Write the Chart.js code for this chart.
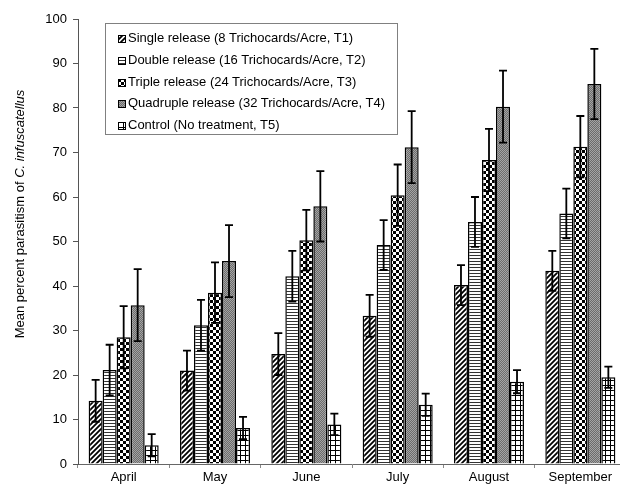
<!DOCTYPE html>
<html>
<head>
<meta charset="utf-8">
<script src="https://cdn.jsdelivr.net/npm/chart.js@4/dist/chart.umd.min.js"></script>
<style>
  html, body { margin: 0; padding: 0; background: #fff; overflow: hidden; }
  #wrap { position: relative; width: 620px; height: 490px; overflow: hidden; }
  #legend {
    position: absolute; left: 105px; top: 23px; width: 291px; height: 110px;
    border: 1px solid #808080; background: #fff;
    font-family: "Liberation Sans", Arial, sans-serif; font-size: 13px; color: #000;
  }
  .item { position: absolute; left: 12px; height: 15px; line-height: 15px; white-space: nowrap; }
  .item canvas { display: inline-block; vertical-align: -1px; margin-right: 2px; }
</style>
</head>
<body>
<div id="wrap">
  <canvas id="barChart" width="627" height="490"></canvas>
  <div id="legend"></div>
</div>
<script>
const months = ['April', 'May', 'June', 'July', 'August', 'September'];
const seriesNames = [
  'Single release (8 Trichocards/Acre, T1)',
  'Double release (16 Trichocards/Acre, T2)',
  'Triple release (24 Trichocards/Acre, T3)',
  'Quadruple release (32 Trichocards/Acre, T4)',
  'Control (No treatment, T5)'
];
const single = [14.2, 21.0, 24.7, 33.3, 40.2, 43.4];
const double = [21.1, 31.2, 42.2, 49.2, 54.4, 56.3];
const triple = [28.5, 38.5, 50.3, 60.4, 68.3, 71.3];
const quadruple = [35.7, 45.6, 57.9, 71.2, 80.3, 85.4];
const control = [4.2, 8.1, 8.9, 13.3, 18.5, 19.5];

const singleErr = [4.7, 4.5, 4.7, 4.7, 4.5, 4.5];
const doubleErr = [5.7, 5.7, 5.7, 5.6, 5.6, 5.6];
const tripleErr = [7.0, 6.8, 6.8, 6.9, 7.0, 6.9];
const quadrupleErr = [8.1, 8.1, 7.9, 8.1, 8.1, 7.9];
const controlErr = [2.5, 2.5, 2.4, 2.5, 2.6, 2.4];

const yTicks = [0, 10, 20, 30, 40, 50, 60, 70, 80, 90, 100];

// --- fill patterns ---
function makeTile(w, h, draw) {
  const c = document.createElement('canvas');
  c.width = w; c.height = h;
  const g = c.getContext('2d');
  g.fillStyle = '#fff';
  g.fillRect(0, 0, w, h);
  draw(g, w, h);
  return c;
}
const tiles = [
  makeTile(5, 5, function(g, w, h) {          // diagonal
    g.strokeStyle = '#000'; g.lineWidth = 1.8;
    g.beginPath();
    g.moveTo(-1, h + 1); g.lineTo(w + 1, -1);
    g.moveTo(-2, 2); g.lineTo(2, -2);
    g.moveTo(w - 2, h + 2); g.lineTo(w + 2, h - 2);
    g.stroke();
  }),
  makeTile(4, 3, function(g, w) {             // horizontal
    g.fillStyle = '#333'; g.fillRect(0, 0, w, 1);
  }),
  makeTile(6, 6, function(g) {                // checkerboard
    g.fillStyle = '#000'; g.fillRect(0, 0, 3, 3); g.fillRect(3, 3, 3, 3);
  }),
  makeTile(2, 2, function(g) {                // dark stipple
    g.fillStyle = '#6c6c6c'; g.fillRect(0, 0, 2, 2);
    g.fillStyle = '#a4a4a4'; g.fillRect(0, 0, 1, 1); g.fillRect(1, 1, 1, 1);
  }),
  makeTile(5, 5, function(g) {                // grid
    g.fillStyle = '#000'; g.fillRect(0, 0, 5, 1); g.fillRect(0, 0, 1, 5);
  })
];
const ctx = document.getElementById('barChart').getContext('2d');
const patterns = tiles.map(t => ctx.createPattern(t, 'repeat'));

const seriesData = [single, double, triple, quadruple, control];
const seriesErr = [singleErr, doubleErr, tripleErr, quadrupleErr, controlErr];

// error bars drawn through the y scale
const errorBars = {
  id: 'errorBars',
  afterDatasetsDraw(chart) {
    const c = chart.ctx;
    const y = chart.scales.y;
    c.save();
    c.strokeStyle = '#000';
    c.lineWidth = 1.8;
    chart.data.datasets.forEach((ds, i) => {
      const meta = chart.getDatasetMeta(i);
      meta.data.forEach((bar, j) => {
        const v = ds.data[j], e = ds.errors[j];
        const top = y.getPixelForValue(v + e), bot = y.getPixelForValue(v - e);
        c.beginPath();
        c.moveTo(bar.x, top); c.lineTo(bar.x, bot);
        c.moveTo(bar.x - 4, top); c.lineTo(bar.x + 4, top);
        c.moveTo(bar.x - 4, bot); c.lineTo(bar.x + 4, bot);
        c.stroke();
      });
    });
    c.restore();
  }
};

// y title with italic species name
const yTitle = {
  id: 'yTitle',
  afterDraw(chart) {
    const c = chart.ctx;
    const a = 'Mean percent parasitism of ', b = 'C. infuscatellus';
    c.save();
    c.fillStyle = '#000';
    c.font = '13px "Liberation Sans", Arial, sans-serif';
    const wa = c.measureText(a).width;
    c.font = 'italic 13px "Liberation Sans", Arial, sans-serif';
    const wb = c.measureText(b).width;
    c.translate(24, 214);
    c.rotate(-Math.PI / 2);
    c.textBaseline = 'alphabetic';
    c.textAlign = 'left';
    const x0 = -(wa + wb) / 2;
    c.font = '13px "Liberation Sans", Arial, sans-serif';
    c.fillText(a, x0, 0);
    c.font = 'italic 13px "Liberation Sans", Arial, sans-serif';
    c.fillText(b, x0 + wa, 0);
    c.restore();
  }
};

const font = { family: '"Liberation Sans", Arial, sans-serif', size: 13 };

new Chart(ctx, {
  type: 'bar',
  data: {
    labels: months,
    datasets: seriesNames.map((name, i) => ({
      label: name,
      data: seriesData[i],
      errors: seriesErr[i],
      backgroundColor: patterns[i],
      borderColor: '#000',
      borderWidth: 1.5
    }))
  },
  options: {
    responsive: false,
    animation: false,
    layout: { padding: { top: 19, right: 1, left: 0, bottom: 0 } },
    datasets: { bar: { categoryPercentage: 0.767, barPercentage: 1 } },
    plugins: { legend: { display: false }, tooltip: { enabled: false } },
    scales: {
      x: {
        afterFit(s) { s.height = 26; },
        border: { color: '#666', width: 1 },
        grid: { offset: true, drawOnChartArea: false, tickLength: 4, color: '#888' },
        ticks: { font: font, color: '#000', padding: 2 }
      },
      y: {
        min: 0, max: 100,
        afterFit(s) { s.width = 78; },
        afterBuildTicks(s) { s.ticks = yTicks.map(v => ({ value: v })); },
        border: { color: '#555', width: 1 },
        grid: { drawOnChartArea: false, tickLength: 5, color: '#555' },
        ticks: { font: font, color: '#000', padding: 6 }
      }
    }
  },
  plugins: [errorBars, yTitle]
});

// legend
const legend = document.getElementById('legend');
seriesNames.forEach((name, i) => {
  const item = document.createElement('div');
  item.className = 'item';
  item.style.top = (6 + i * 21.8) + 'px';
  const sw = document.createElement('canvas');
  sw.width = 8; sw.height = 8;
  const g = sw.getContext('2d');
  g.fillStyle = g.createPattern(tiles[i], 'repeat');
  g.fillRect(0, 0, 8, 8);
  g.strokeStyle = '#000'; g.lineWidth = 1;
  g.strokeRect(0.5, 0.5, 7, 7);
  item.appendChild(sw);
  item.appendChild(document.createTextNode(name));
  legend.appendChild(item);
});
</script>
</body>
</html>
